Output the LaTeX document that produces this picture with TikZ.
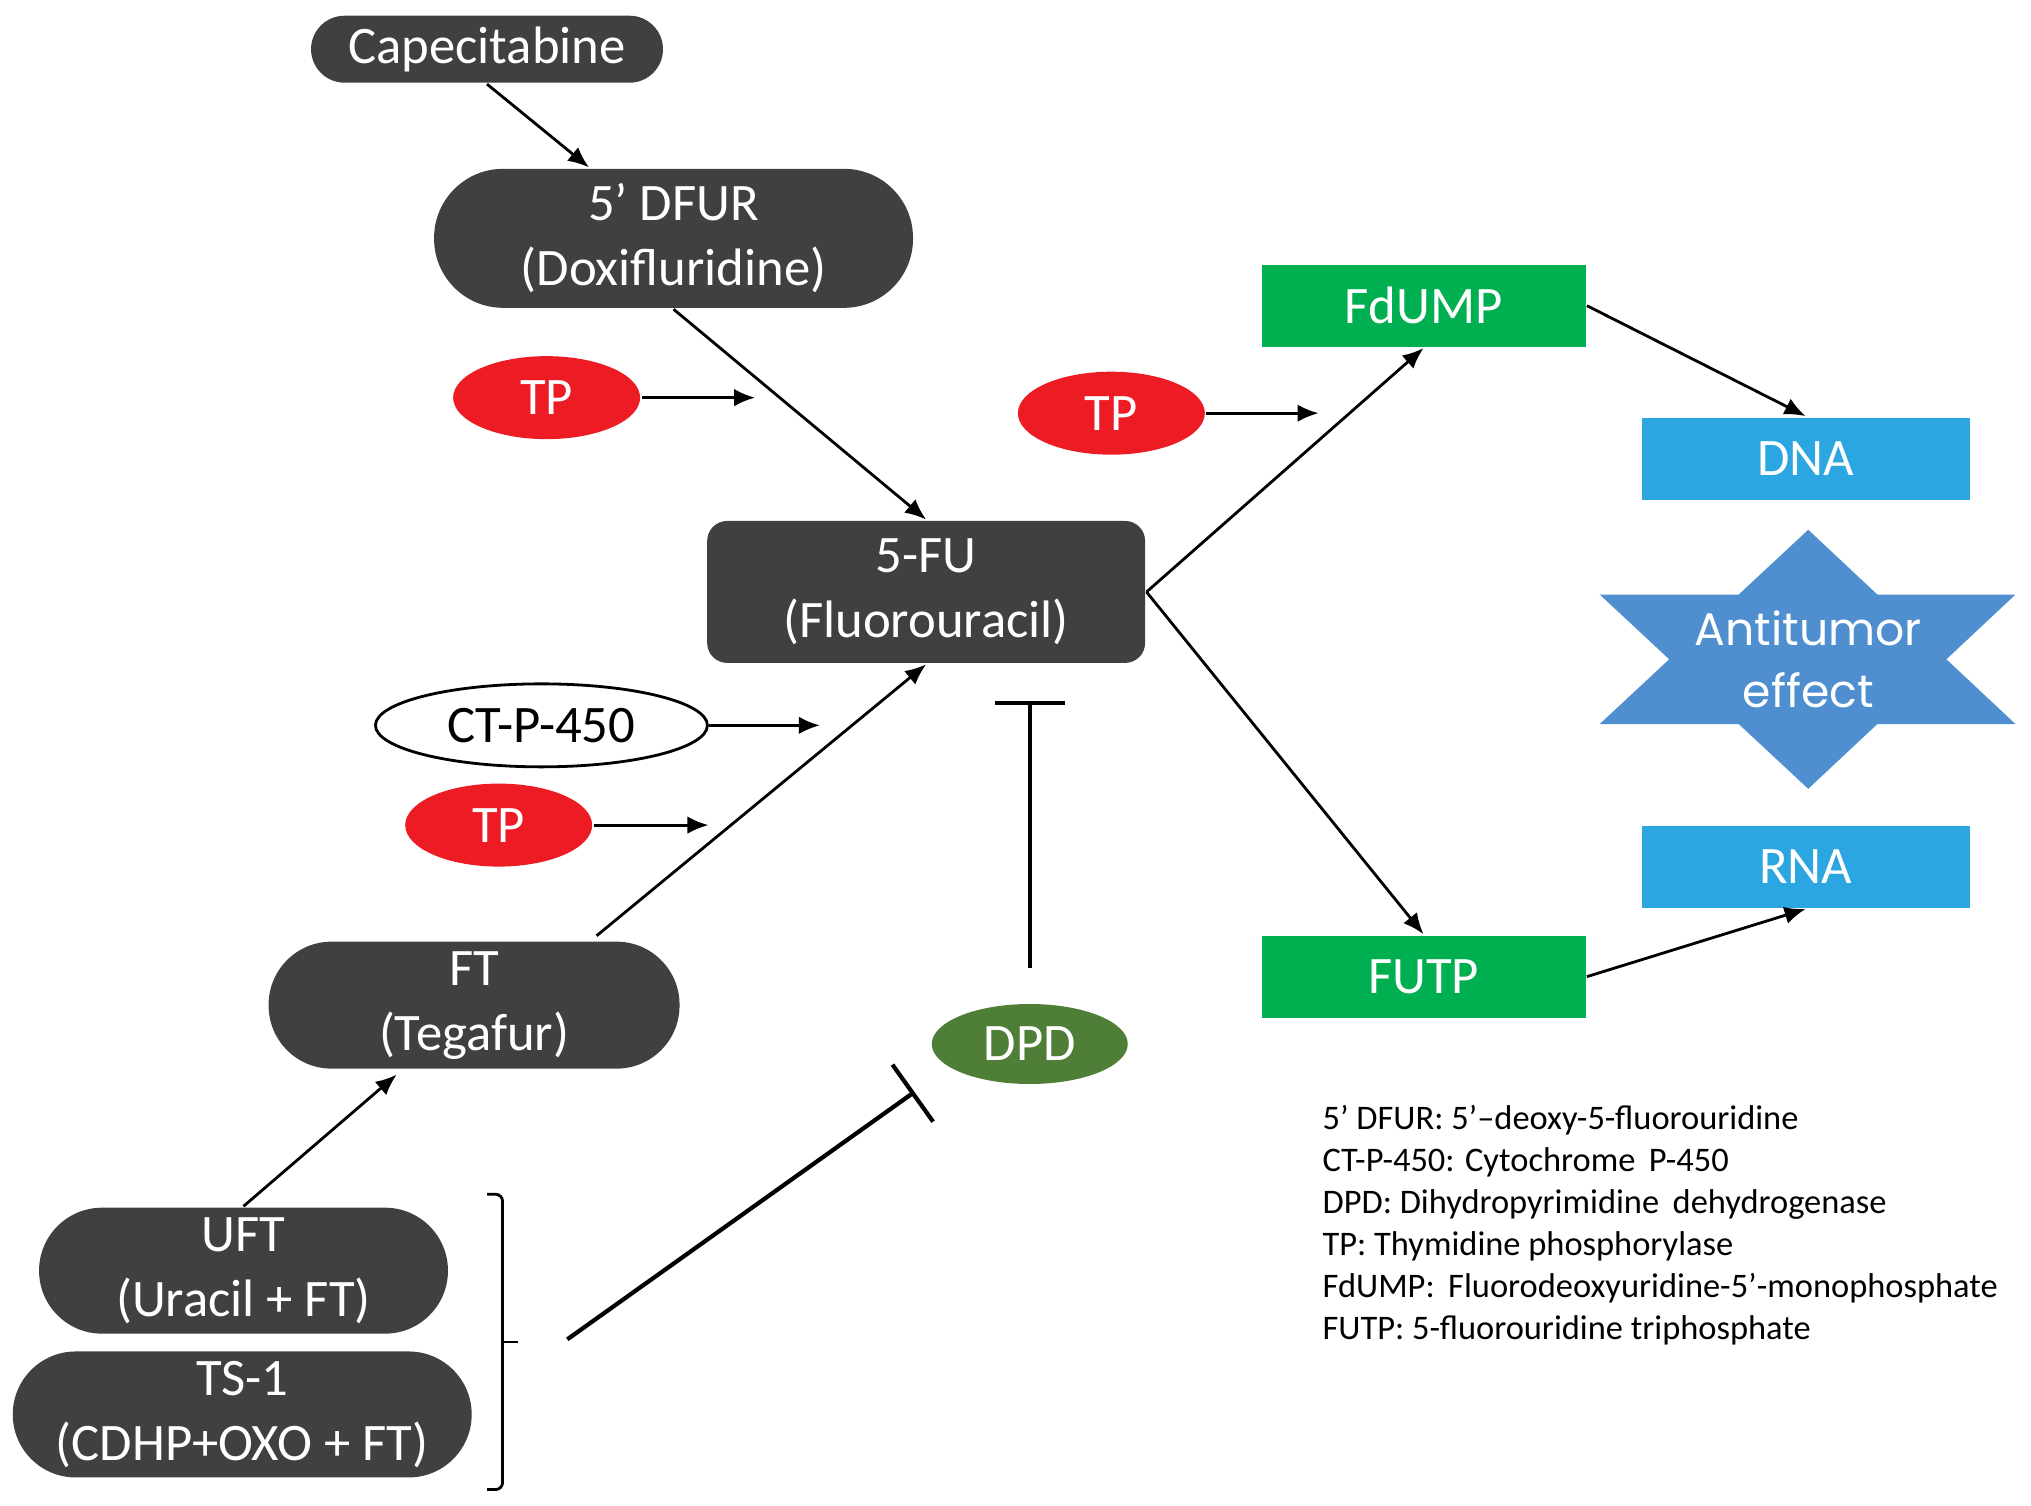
\documentclass[tikz,border=0pt]{standalone}
\usepackage{fontspec}
\setmainfont{Carlito}
\newfontfamily\starfont{Poppins}
\usetikzlibrary{arrows.meta,shapes.geometric}
\definecolor{druggray}{HTML}{404040}
\definecolor{tpred}{HTML}{ED1C24}
\definecolor{boxgreen}{HTML}{00B050}
\definecolor{boxblue}{HTML}{2CA6E0}
\definecolor{dpdgreen}{HTML}{4F7F36}
\definecolor{starblue}{HTML}{4F8FCF}
\tikzset{
  drug/.style={fill=druggray, text=white, align=center, inner sep=0pt},
  enzyme/.style={ellipse, fill=tpred, text=white, inner sep=0pt, minimum width=1.87cm, minimum height=0.83cm},
  product/.style={fill=boxgreen, text=white, inner sep=0pt, minimum width=3.24cm, minimum height=0.82cm},
  target/.style={fill=boxblue, text=white, inner sep=0pt, minimum width=3.28cm, minimum height=0.82cm},
  inhib/.style={line width=1.2pt, -{Bar[width=0.7cm]}},
  every node/.style={font=\fontsize{15}{18.5}\selectfont}
}
\begin{document}
\begin{tikzpicture}[x=0.012953cm, y=-0.012953cm, >={Latex[length=6pt,width=5pt]}, line width=0.8pt]
\useasboundingbox (0,0) rectangle (1568,1162);
% drugs
\node[drug, minimum width=3.52cm, minimum height=0.67cm, rounded corners=0.335cm] (cape) at (376,38) {Capecitabine};
\node[drug, minimum width=4.79cm, minimum height=1.39cm, rounded corners=0.69cm] (dfur) at (520,184) {5’ DFUR\\(Doxifluridine)};
\node[drug, minimum width=4.38cm, minimum height=1.42cm, rounded corners=0.2cm] (fu) at (715,457) {5-FU\\(Fluorouracil)};
\node[drug, minimum width=4.11cm, minimum height=1.27cm, rounded corners=0.63cm] (ft) at (366,776) {FT\\(Tegafur)};
\node[drug, minimum width=4.09cm, minimum height=1.26cm, rounded corners=0.63cm] (uft) at (188,981) {UFT\\(Uracil + FT)};
\node[drug, minimum width=4.59cm, minimum height=1.26cm, rounded corners=0.63cm] (ts) at (187,1092) {TS-1\\(CDHP+OXO + FT)};
% enzymes
\node[enzyme] (tpa) at (422,307) {TP};
\node[enzyme] (tpb) at (858,319) {TP};
\node[enzyme] (tpc) at (385,637) {TP};
\node[ellipse, draw, fill=white, inner sep=0pt, minimum width=3.32cm, minimum height=0.83cm] (ctp) at (418,560) {CT-P-450};
\node[ellipse, fill=dpdgreen, text=white, inner sep=0pt, minimum width=1.96cm, minimum height=0.8cm] (dpd) at (795,806) {DPD};
% metabolites
\node[product] (fdump) at (1099,236) {FdUMP};
\node[product] (futp) at (1099,754) {FUTP};
\node[target] (dna) at (1394,354) {DNA};
\node[target] (rna) at (1394,669) {RNA};
% star
\fill[starblue] (1396,409) -- (1556,559) -- (1235,559) -- cycle;
\fill[starblue] (1396,609) -- (1556,459) -- (1235,459) -- cycle;
\node[text=white, align=center, font=\starfont\fontsize{13}{17.6}\selectfont] (anti) at (1396,509) {Antitumor\\effect};

\draw[->] (cape.south) -- (dfur.140);
\draw[->] (dfur.south) -- (fu.north);
\draw[->, shorten <=2pt] (ft.29) -- (fu.south);
\draw[->, shorten >=2pt] (uft.north) -- (ft.222);
\draw[->] (fu.east) -- (fdump.south);
\draw[->] (fu.east) -- (futp.north);
\draw[->] (fdump.east) -- (dna.north);
\draw[->] (futp.east) -- (rna.south);

\coordinate (tpaend) at (583,307);
\coordinate (tpbend) at (1018,319);
\coordinate (ctpend) at (633,560);
\coordinate (tpcend) at (547,637);
\draw[->] (tpa) -- (tpaend);
\draw[->] (tpb) -- (tpbend);
\draw[->] (ctp) -- (ctpend);
\draw[->] (tpc) -- (tpcend);

% inhibition
\coordinate (fubar) at (795,541);
\draw[inhib, shorten <=0.35cm] (dpd) -- (fubar);
\coordinate (brk) at (400,1036);
\coordinate (mixstart) at (438,1034);
\coordinate (dpdbar) at (706,843);
\draw[rounded corners=2pt] (376,922) -- (388,922) -- (388,1150) -- (376,1150);
\draw (388,1036) -- (brk);
\draw[inhib] (mixstart) -- (dpdbar);

\node[anchor=north west, align=left, inner sep=0pt, font=\fontsize{9.8}{11.94}\selectfont] (legend) at (1020,852) {5’ DFUR: 5’–deoxy-5-fluorouridine\\
CT-P-450: Cytochrome\, P-450\\
DPD: Dihydropyrimidine\, dehydrogenase\\
TP: Thymidine phosphorylase\\
FdUMP:\, Fluorodeoxyuridine-5’-monophosphate\\
FUTP: 5-fluorouridine triphosphate};
\end{tikzpicture}
\end{document}
